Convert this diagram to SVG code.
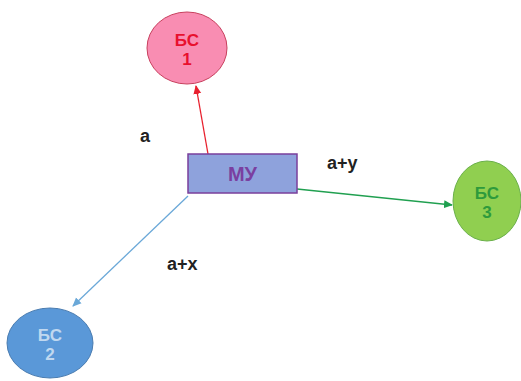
<svg xmlns="http://www.w3.org/2000/svg" width="521" height="381" viewBox="0 0 521 381">
<style>
.lbl{font-family:"Liberation Sans",Arial,sans-serif;font-weight:bold;font-size:18px;fill:#222}
.nt{font-family:"Liberation Sans",Arial,sans-serif;font-weight:bold;font-size:17px;text-anchor:middle}
</style>
<defs>
<marker id="ared" markerWidth="10" markerHeight="10" refX="8" refY="5" orient="auto" markerUnits="userSpaceOnUse"><path d="M0,1 L9,5 L0,9 z" fill="#e8202e"/></marker>
<marker id="agrn" markerWidth="10" markerHeight="10" refX="8" refY="5" orient="auto" markerUnits="userSpaceOnUse"><path d="M0,1 L9,5 L0,9 z" fill="#20a050"/></marker>
<marker id="ablu" markerWidth="10" markerHeight="10" refX="8" refY="5" orient="auto" markerUnits="userSpaceOnUse"><path d="M0,1 L9,5 L0,9 z" fill="#6aa8d8"/></marker>
</defs>
<rect width="521" height="381" fill="#fff"/>
<g id="connectors" fill="none" stroke-width="1.3">
<line x1="208" y1="154" x2="196" y2="86" stroke="#e8202e" marker-end="url(#ared)"/>
<line x1="297" y1="189" x2="452" y2="205" stroke="#20a050" marker-end="url(#agrn)"/>
<line x1="188" y1="196" x2="73" y2="306" stroke="#6aa8d8" marker-end="url(#ablu)"/>
</g>
<g id="bs1">
<ellipse cx="187" cy="48" rx="40" ry="36" fill="#f98db2" stroke="#c8405e" stroke-width="1"/>
<text class="nt" x="187" y="46" fill="#e8102e">БС</text>
<text class="nt" x="187" y="65" fill="#e8102e">1</text>
</g>
<g id="mu">
<rect x="188" y="154" width="109" height="39" fill="#8ea2dc" stroke="#7a3f9c" stroke-width="1.5"/>
<text class="nt" x="242.5" y="181" fill="#7a3fa0" style="font-size:20px">МУ</text>
</g>
<g id="bs3">
<ellipse cx="487" cy="201" rx="34" ry="40" fill="#90cf50" stroke="#6ab04a" stroke-width="1"/>
<text class="nt" x="487" y="199" fill="#2e9a3c">БС</text>
<text class="nt" x="487" y="218" fill="#2e9a3c">3</text>
</g>
<g id="bs2">
<ellipse cx="50" cy="343" rx="43" ry="35" fill="#5a98d8" stroke="#4a7cb0" stroke-width="1"/>
<text class="nt" x="50" y="341" fill="#c0d8f0">БС</text>
<text class="nt" x="50" y="360" fill="#c0d8f0">2</text>
</g>
<text class="lbl" x="140" y="142">a</text>
<text class="lbl" x="327" y="169">a+y</text>
<text class="lbl" x="167" y="270">a+x</text>
</svg>
